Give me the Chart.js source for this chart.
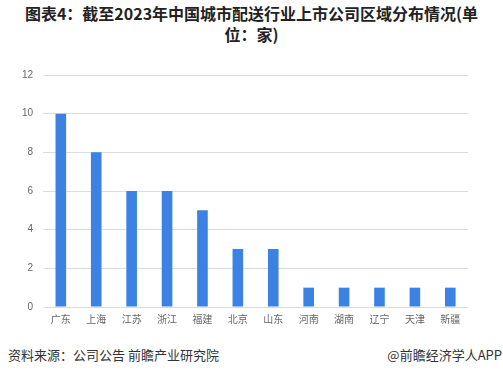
<!DOCTYPE html>
<html><head><meta charset="utf-8">
<script src="https://cdn.jsdelivr.net/npm/chart.js@4/dist/chart.umd.min.js"></script>
<style>
html,body{margin:0;padding:0;background:#fff;width:503px;height:377px;overflow:hidden;font-family:"Noto Sans CJK SC","Noto Sans",sans-serif;}
#title{position:absolute;left:0;top:3px;width:503px;text-align:center;font-weight:bold;font-size:16px;line-height:21px;color:#222;}
#wrap{position:absolute;left:0;top:59px;width:468px;height:272px;}
#src{position:absolute;left:8px;top:345px;font-size:13px;color:#333;}
#app{position:absolute;right:1px;top:345px;font-size:13px;color:#333;}
</style></head>
<body>
<div id="title">图表4：截至2023年中国城市配送行业上市公司区域分布情况(单<br>位：家)</div>
<div id="wrap"><canvas id="c"></canvas></div>
<div id="src">资料来源：公司公告 前瞻产业研究院</div>
<div id="app">@前瞻经济学人APP</div>
<script>
const categories = ["广东","上海","江苏","浙江","福建","北京","山东","河南","湖南","辽宁","天津","新疆"];
const values = [10,8,6,6,5,3,3,1,1,1,1,1];
const yTicks = [0,2,4,6,8,10,12];
new Chart(document.getElementById('c'), {
  type: 'bar',
  data: { labels: categories, datasets: [{ data: values, backgroundColor: '#3b82e3', barPercentage: 0.6, categoryPercentage: 0.5 }] },
  options: {
    responsive: true, maintainAspectRatio: false, animation: false,
    plugins: { legend: { display: false }, tooltip: { enabled: false } },
    layout: { padding: { left: 12, right: 0, top: 6, bottom: 0 } },
    scales: {
      x: { grid: { display: false, drawTicks: false }, border: { display: false },
           ticks: { color: '#666', font: { size: 10, family: '"Noto Sans CJK SC"' }, padding: 6 } },
      y: { min: 0, max: 12, afterBuildTicks: a => { a.ticks = yTicks.map(v => ({ value: v })); },
           grid: { color: '#dcdcdc', drawTicks: false }, border: { display: false },
           ticks: { color: '#666', font: { size: 10, family: 'Arial, "Liberation Sans"' }, padding: 10 } }
    }
  }
});
</script>
</body></html>
